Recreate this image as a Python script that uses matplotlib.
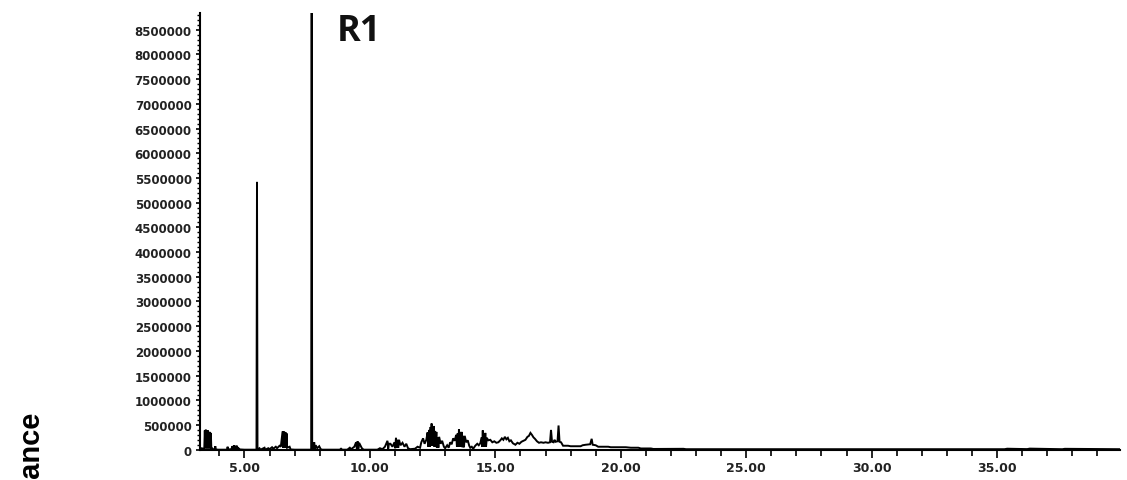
import matplotlib
matplotlib.use("Agg")
import matplotlib.pyplot as plt
from matplotlib.ticker import MultipleLocator, FormatStrFormatter

# Retention time (min) and abundance
rt = [3.23, 3.30, 3.36, 3.40,
      3.42, 3.44, 3.46, 3.48, 3.50, 3.52, 3.54, 3.56, 3.58, 3.60, 3.62, 3.64, 3.66, 3.68,
      3.70, 3.74, 3.80, 3.84, 3.86, 3.95,
      4.30, 4.33, 4.36, 4.48, 4.52, 4.55, 4.58, 4.61, 4.64, 4.67, 4.70, 4.73, 4.76, 4.82, 5.00, 5.40,
      5.48, 5.50, 5.52,
      5.60, 5.64, 5.80, 5.83, 5.95, 6.00, 6.10, 6.15, 6.25, 6.30, 6.40, 6.45,
      6.52, 6.54, 6.56, 6.58, 6.60, 6.62, 6.64, 6.66, 6.68,
      6.70, 6.80, 6.84, 7.00, 7.60,
      7.66, 7.68, 7.70,
      7.72, 7.75, 7.78, 7.81, 7.84, 7.90, 7.98, 8.04, 8.10, 8.80, 8.85, 8.90, 9.10, 9.20, 9.25, 9.38,
      9.45, 9.48, 9.51, 9.54, 9.57, 9.60, 9.68, 9.75, 10.30,
      10.40, 10.50, 10.60, 10.70, 10.73, 10.76, 10.82, 10.90, 10.98, 11.01, 11.04, 11.07, 11.10, 11.13, 11.16, 11.22,
      11.30, 11.38, 11.45, 11.52, 11.60,
      11.80, 11.90, 12.00, 12.05, 12.12, 12.18, 12.25, 12.30, 12.33, 12.36, 12.39, 12.42, 12.44, 12.46, 12.48, 12.50,
      12.52, 12.55, 12.57, 12.60, 12.62, 12.65, 12.67, 12.70, 12.73, 12.76,
      12.82, 12.88, 12.95, 13.00, 13.08, 13.14, 13.20, 13.26, 13.32, 13.38, 13.44, 13.47, 13.50, 13.53, 13.55, 13.57,
      13.60, 13.63, 13.66, 13.69, 13.72, 13.75, 13.78,
      13.84, 13.90, 13.96, 14.00, 14.06, 14.12, 14.20, 14.28, 14.34, 14.40, 14.46, 14.48, 14.50, 14.52, 14.54, 14.57,
      14.60, 14.63, 14.66, 14.72, 14.80,
      14.88, 14.96, 15.04, 15.12, 15.20, 15.26, 15.32, 15.38, 15.44, 15.50, 15.56, 15.62, 15.70, 15.80, 15.88, 15.96, 16.04,
      16.12, 16.20, 16.28, 16.34, 16.40, 16.46, 16.52, 16.58, 16.66, 16.74, 16.82, 16.92, 17.00, 17.10, 17.18, 17.22, 17.26,
      17.32, 17.36, 17.40, 17.48, 17.52, 17.56, 17.62, 17.70, 17.90, 18.00, 18.40, 18.48, 18.60, 18.78, 18.84, 18.88, 19.00,
      19.10, 19.50, 19.60, 20.20, 20.40, 20.70, 20.80, 21.20, 21.30, 22.50, 22.60, 35.30, 35.40, 36.20, 36.30, 37.60, 37.70,
      39.90]

abundance = [20000, 30000, 15000, 40000,
             390000, 30000, 405000, 30000, 380000, 30000, 390000, 30000, 360000, 30000, 360000, 30000, 340000, 30000,
             30000, 10000, 5000, 70000, 5000, 0,
             0, 60000, 5000, 10000, 70000, 10000, 90000, 10000, 80000, 10000, 80000, 10000, 30000, 5000, 0, 0,
             0, 5420000, 0,
             30000, 0, 40000, 0, 30000, 10000, 50000, 20000, 60000, 30000, 80000, 60000,
             370000, 40000, 370000, 40000, 360000, 40000, 350000, 40000, 330000,
             40000, 60000, 5000, 0, 0,
             0, 9500000, 0,
             120000, 20000, 150000, 20000, 90000, 30000, 70000, 10000, 0, 0, 20000, 0, 0, 40000, 10000, 60000,
             150000, 20000, 170000, 20000, 140000, 110000, 30000, 0, 0,
             30000, 10000, 60000, 180000, 20000, 120000, 120000, 60000, 150000, 30000, 240000, 40000, 200000, 40000, 200000, 90000,
             140000, 60000, 120000, 30000, 10000,
             20000, 60000, 40000, 150000, 230000, 120000, 200000, 350000, 60000, 400000, 60000, 460000, 80000, 530000, 80000, 470000,
             80000, 480000, 60000, 380000, 60000, 360000, 40000, 250000, 40000, 260000,
             120000, 180000, 60000, 30000, 90000, 40000, 150000, 110000, 230000, 180000, 300000, 60000, 330000, 60000, 410000, 60000,
             360000, 60000, 360000, 50000, 280000, 50000, 280000,
             150000, 190000, 80000, 40000, 60000, 20000, 80000, 120000, 90000, 130000, 250000, 60000, 390000, 60000, 330000, 60000,
             340000, 60000, 240000, 190000, 200000,
             150000, 170000, 140000, 150000, 190000, 230000, 200000, 260000, 210000, 240000, 170000, 190000, 130000, 100000, 140000, 120000, 160000,
             180000, 200000, 260000, 280000, 340000, 300000, 250000, 220000, 170000, 140000, 150000, 140000, 150000, 140000, 150000, 400000, 160000,
             150000, 200000, 160000, 170000, 490000, 160000, 150000, 80000, 80000, 70000, 70000, 90000, 100000, 110000, 220000, 100000, 90000,
             60000, 60000, 50000, 50000, 40000, 40000, 25000, 25000, 15000, 18000, 10000, 10000, 20000, 12000, 22000, 10000, 18000,
             10000]

x_major = [5, 10, 15, 20, 25, 30, 35]
y_major_step = 500000

fig = plt.figure(figsize=(11.27, 4.81), dpi=100)
ax = fig.add_axes([0.1775, 0.063, 0.8163, 0.908])

ax.plot(rt, abundance, color="black", lw=1.4, solid_joinstyle="miter")

ax.set_xlim(3.23, 39.9)
ax.set_ylim(0, 8840000)

ax.set_xticks(x_major)
ax.xaxis.set_major_formatter(FormatStrFormatter("%.2f"))
ax.xaxis.set_minor_locator(MultipleLocator(1))
ax.yaxis.set_major_locator(MultipleLocator(y_major_step))
ax.yaxis.set_major_formatter(FormatStrFormatter("%d"))
ax.yaxis.set_minor_locator(MultipleLocator(100000))

for s in ["top", "right"]:
    ax.spines[s].set_visible(False)
for s in ["left", "bottom"]:
    ax.spines[s].set_linewidth(1.5)

ax.tick_params(axis="x", which="major", direction="out", length=6, width=1.2, pad=2,
               labelsize=9, labelcolor="#222222")
ax.tick_params(axis="x", which="minor", direction="out", length=4, width=1.2)
ax.tick_params(axis="y", which="major", direction="out", length=3, width=1.2, pad=3,
               labelsize=8.5, labelcolor="#222222")
ax.tick_params(axis="y", which="minor", direction="out", length=2, width=1.0)
for lab in ax.get_xticklabels() + ax.get_yticklabels():
    lab.set_fontweight("bold")
    lab.set_family("DejaVu Sans")

fig.text(0.299, 0.9148, "R1", fontsize=26, fontweight="bold", family="Open Sans",
         ha="left", va="baseline", color="#111111")
fig.text(0.028, 0.1435, "Abundance", rotation=90, ha="center", va="top",
         fontsize=21, fontweight="bold", family="Liberation Sans")

fig.savefig("out.png", dpi=100)
